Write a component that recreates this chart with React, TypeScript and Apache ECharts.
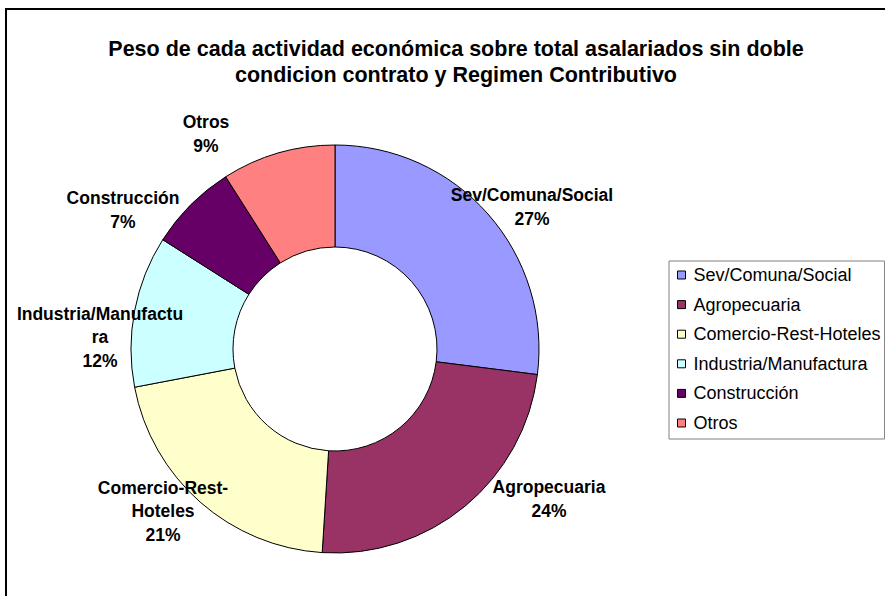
import React, { useEffect, useRef } from "react";
import * as echarts from "echarts";

const categories = [
  "Sev/Comuna/Social",
  "Agropecuaria",
  "Comercio-Rest-Hoteles",
  "Industria/Manufactura",
  "Construcción",
  "Otros",
];
const values = [27, 24, 21, 12, 7, 9];
const labelNames = [
  "Sev/Comuna/Social",
  "Agropecuaria",
  "Comercio-Rest-\nHoteles",
  "Industria/Manufactu\nra",
  "Construcción",
  "Otros",
];
const colors = ["#9999FF", "#993366", "#FFFFCC", "#CCFFFF", "#660066", "#FF8080"];
// label anchor offsets from the pie centre (px), as placed in the original
const labelOffsets = [
  [197, -142],
  [214, 150],
  [-172, 162],
  [-235, -12],
  [-212, -139],
  [-129, -215],
];
const titleText =
  "Peso de cada actividad económica sobre total asalariados sin doble\ncondicion contrato y Regimen Contributivo";

const FONT = "'Liberation Sans', Arial, Helvetica, sans-serif";
const CX = 335;
const CY = 349;

export default function App() {
  const ref = useRef<HTMLDivElement>(null);
  useEffect(() => {
    if (!ref.current) return;
    const chart = echarts.init(ref.current, null, { renderer: "svg" });
    chart.setOption({
      animation: false,
      backgroundColor: "#ffffff",
      title: {
        text: titleText,
        left: 451,
        top: 31,
        textAlign: "center",
        textStyle: {
          fontFamily: FONT,
          fontSize: 21.5,
          fontWeight: "bold",
          color: "#000",
          lineHeight: 26,
        },
      },
      graphic: [
        {
          type: "rect",
          shape: { x: 6, y: 9, width: 900, height: 600 },
          style: { fill: "none", stroke: "#000", lineWidth: 2 },
          silent: true,
          z: 100,
        },
      ],
      legend: {
        orient: "vertical",
        left: 669,
        top: 261,
        itemWidth: 8,
        itemHeight: 8,
        itemGap: 9.6,
        icon: "rect",
        padding: [4, 4, 6, 8],
        borderColor: "#808080",
        borderWidth: 1,
        textStyle: {
          fontFamily: FONT,
          fontSize: 18,
          color: "#000",
          lineHeight: 20,
          padding: [0, 0, 0, 3],
        },
        itemStyle: { borderColor: "#000", borderWidth: 1 },
        data: categories,
      },
      series: [
        {
          type: "pie",
          center: [CX, CY],
          radius: [102, 204],
          startAngle: 90,
          clockwise: true,
          avoidLabelOverlap: false,
          itemStyle: { borderColor: "#000", borderWidth: 1 },
          emphasis: { disabled: true },
          label: {
            show: true,
            position: "outside",
            fontFamily: FONT,
            fontSize: 17.5,
            fontWeight: "bold",
            color: "#000",
            lineHeight: 23.5,
            align: "center",
            formatter: (p: any) =>
              labelNames[p.dataIndex] + "\n" + Math.round(p.percent) + "%",
          },
          labelLine: { show: false },
          labelLayout: (p: any) => {
            const o = labelOffsets[p.dataIndex];
            return {
              x: CX + o[0],
              y: CY + o[1],
              align: "center",
              verticalAlign: "middle",
            };
          },
          data: categories.map((c, i) => ({
            name: c,
            value: values[i],
            itemStyle: { color: colors[i] },
          })),
        },
      ],
    });
    return () => chart.dispose();
  }, []);
  return (
    <div
      ref={ref}
      style={{ position: "fixed", left: 0, top: 0, width: 885, height: 596 }}
    />
  );
}
